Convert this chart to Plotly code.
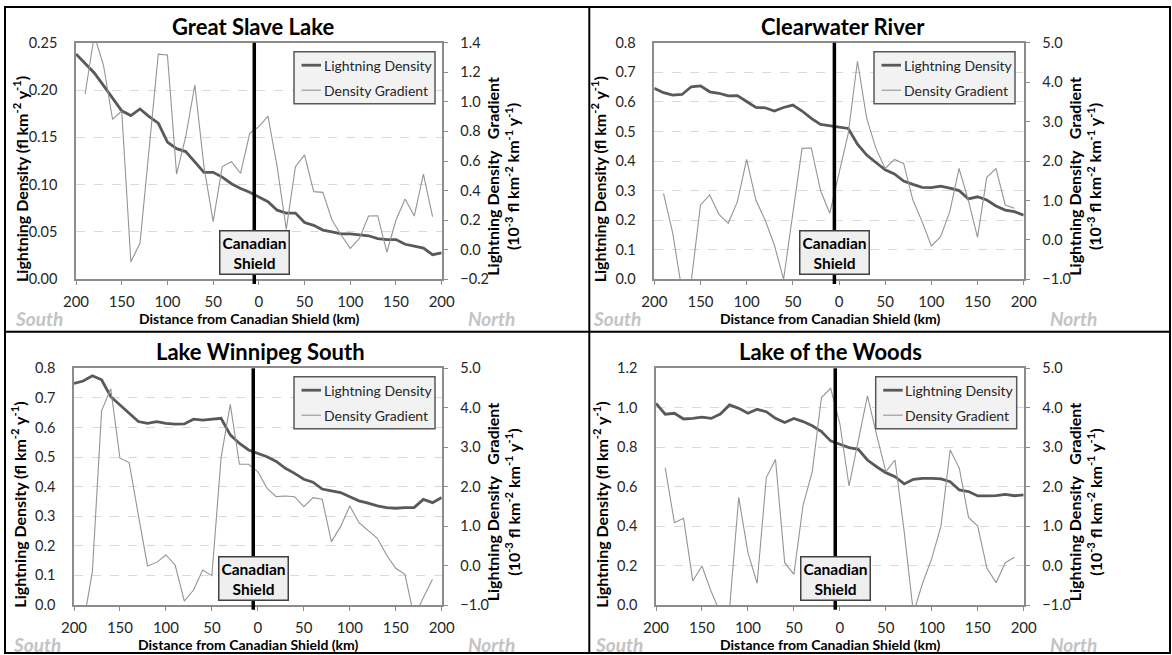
import plotly.graph_objects as go

# ---------------- DATA ----------------
DIST_DENSITY = list(range(-200, 201, 10))     # 41 points
DIST_GRADIENT = list(range(-190, 191, 10))    # 39 points
SHIELD_X = -5

X_TICKVALS = [-200, -150, -100, -50, 0, 50, 100, 150, 200]
X_TICKTEXT = ["200", "150", "100", "50", "0", "50", "100", "150", "200"]

TITLES = ["Great Slave Lake", "Clearwater River", "Lake Winnipeg South", "Lake of the Woods"]
SERIES_NAMES = ["Lightning Density", "Density Gradient"]

# Lightning density (fl km-2 y-1)
density_gsl = [0.238, 0.228, 0.218, 0.205, 0.191, 0.178, 0.173, 0.180, 0.172, 0.165,
               0.145, 0.138, 0.135, 0.124, 0.113, 0.113, 0.108, 0.101, 0.096, 0.092,
               0.087, 0.082, 0.073, 0.070, 0.070, 0.060, 0.057, 0.052, 0.050, 0.048,
               0.048, 0.047, 0.046, 0.043, 0.042, 0.042, 0.037, 0.035, 0.033, 0.026, 0.028]
density_cwr = [0.646, 0.631, 0.623, 0.625, 0.651, 0.654, 0.634, 0.629, 0.620, 0.621,
               0.601, 0.581, 0.580, 0.569, 0.581, 0.589, 0.569, 0.544, 0.524, 0.519,
               0.516, 0.510, 0.457, 0.420, 0.395, 0.370, 0.356, 0.332, 0.321, 0.311,
               0.310, 0.315, 0.308, 0.300, 0.272, 0.279, 0.268, 0.248, 0.234, 0.229, 0.217]
density_lws = [0.749, 0.757, 0.775, 0.761, 0.704, 0.676, 0.648, 0.620, 0.614, 0.620,
               0.614, 0.611, 0.612, 0.628, 0.625, 0.629, 0.631, 0.575, 0.546, 0.524,
               0.513, 0.501, 0.485, 0.462, 0.445, 0.425, 0.415, 0.392, 0.386, 0.380,
               0.366, 0.352, 0.344, 0.335, 0.329, 0.327, 0.329, 0.329, 0.357, 0.346, 0.363]
density_lotw = [1.022, 0.967, 0.972, 0.943, 0.946, 0.952, 0.946, 0.968, 1.014, 0.997,
                0.972, 0.992, 0.980, 0.946, 0.925, 0.946, 0.930, 0.909, 0.879, 0.832,
                0.815, 0.798, 0.789, 0.735, 0.701, 0.671, 0.651, 0.614, 0.637, 0.642,
                0.642, 0.639, 0.625, 0.583, 0.575, 0.553, 0.553, 0.554, 0.561, 0.554, 0.558]

# Density gradient (10-3 fl km-2 km-1 y-1)
gradient_gsl = [1.053, 1.45, 1.249, 0.882, 0.938, -0.081, 0.043, 0.686, 1.323, 1.317,
                0.512, 0.765, 1.114, 0.562, 0.190, 0.562, 0.595, 0.517, 0.787, 0.832,
                0.904, 0.562, 0.138, 0.562, 0.641, 0.393, 0.388, 0.201, 0.100, 0.010,
                0.077, 0.228, 0.230, -0.017, 0.201, 0.343, 0.228, 0.512, 0.224]
gradient_cwr = [1.18, 0.166, -1.3, -1.05, 0.885, 1.14, 0.648, 0.42, 0.97, 2.04,
                1.01, 0.504, -0.13, -1.0, 0.673, 2.32, 2.33, 1.25, 0.673, 1.71,
                2.70, 4.53, 3.08, 2.32, 1.81, 2.04, 1.94, 1.01, 0.462, -0.155,
                0.08, 0.715, 1.81, 1.01, 0.065, 1.586, 1.81, 0.885, 0.80]
gradient_lws = [-1.5, -0.155, 3.92, 4.48, 2.72, 2.61, 1.28, -0.01, 0.08, 0.268,
                0.014, -0.90, -0.62, -0.113, -0.256, 2.735, 4.087, 2.566, 2.566, 2.38,
                1.958, 1.746, 1.763, 1.746, 1.493, 1.72, 1.68, 0.606, 0.986, 1.51,
                1.087, 0.885, 0.69, 0.268, -0.07, -0.222, -1.3, -0.814, -0.35]
gradient_lotw = [2.48, 1.087, 1.197, -0.39, -0.011, -0.66, -1.2, -1.1, 1.73, 0.327,
                 -0.45, 2.23, 2.69, 0.073, -0.222, 1.535, 2.38, 4.26, 4.49, 3.6,
                 2.017, 3.14, 4.30, 3.31, 2.38, 2.676, 0.859, -1.2, -0.45, 0.183,
                 1.0, 2.93, 2.465, 1.22, 1.0, -0.07, -0.434, 0.073, 0.208]

LEFT_TICKS = [
    [0.00, 0.05, 0.10, 0.15, 0.20, 0.25],
    [0.0, 0.1, 0.2, 0.3, 0.4, 0.5, 0.6, 0.7, 0.8],
    [0.0, 0.1, 0.2, 0.3, 0.4, 0.5, 0.6, 0.7, 0.8],
    [0.0, 0.2, 0.4, 0.6, 0.8, 1.0, 1.2],
]
RIGHT_TICKS = [
    [-0.2, 0.0, 0.2, 0.4, 0.6, 0.8, 1.0, 1.2, 1.4],
    [-1.0, 0.0, 1.0, 2.0, 3.0, 4.0, 5.0],
    [-1.0, 0.0, 1.0, 2.0, 3.0, 4.0, 5.0],
    [-1.0, 0.0, 1.0, 2.0, 3.0, 4.0, 5.0],
]
LEFT_FMT = [".2f", ".1f", ".1f", ".1f"]

DENSITIES = [density_gsl, density_cwr, density_lws, density_lotw]
GRADIENTS = [gradient_gsl, gradient_cwr, gradient_lws, gradient_lotw]

# ---------------- LAYOUT (pixel geometry) ----------------
W, H = 1172, 655
FONT = "Lato"
TICK_SIZE = 14.5
PANELS = [
    dict(L=76.0, R=441.7, T=42.7, B=279.3, tx=252.5, ty=26.7, lg=(435, 51.7)),
    dict(L=654.3, R=1023.7, T=42.7, B=279.3, tx=842.7, ty=26.7, lg=(1015, 51.7)),
    dict(L=74.0, R=441.7, T=368.3, B=605.0, tx=260.5, ty=351.7, lg=(435, 376.7)),
    dict(L=656.0, R=1023.7, T=368.3, B=605.0, tx=830.2, ty=351.7, lg=(1016.7, 376.7)),
]
LEG_W, LEG_H = 141, 52


def fx(px):
    return px / W


def fy(py):
    return 1 - py / H


fig = go.Figure()
layout = dict(
    width=W, height=H, margin=dict(l=0, r=0, t=0, b=0, autoexpand=False),
    paper_bgcolor="white", plot_bgcolor="white",
    font=dict(family=FONT, size=14, color="#262626"),
    showlegend=False,
)
annotations = []
shapes = []

AXIS_COL = "#8c8c8c"
DENS_COL = "#595959"
GRAD_COL = "#949494"
DENS_W = 2.8
GRAD_W = 1.1

for i, p in enumerate(PANELS):
    n = i + 1
    xname = "xaxis" if n == 1 else f"xaxis{n}"
    xref = "x" if n == 1 else f"x{n}"
    yl = 2 * n - 1
    yr = 2 * n
    ylname = "yaxis" if yl == 1 else f"yaxis{yl}"
    ylref = "y" if yl == 1 else f"y{yl}"
    yrname = f"yaxis{yr}"
    yrref = f"y{yr}"

    fig.add_trace(go.Scatter(
        x=DIST_DENSITY, y=DENSITIES[i], mode="lines", name=SERIES_NAMES[0],
        line=dict(color=DENS_COL, width=DENS_W), xaxis=xref, yaxis=ylref))
    fig.add_trace(go.Scatter(
        x=DIST_GRADIENT, y=GRADIENTS[i], mode="lines", name=SERIES_NAMES[1],
        line=dict(color=GRAD_COL, width=GRAD_W), xaxis=xref, yaxis=yrref))

    layout[xname] = dict(
        domain=[fx(p["L"]), fx(p["R"])], anchor=ylref, range=[-200, 200],
        tickvals=X_TICKVALS, ticktext=X_TICKTEXT, showgrid=False, zeroline=False,
        showline=True, linecolor=AXIS_COL, linewidth=1.5, mirror=True,
        ticks="outside", ticklen=4, tickcolor=AXIS_COL, tickwidth=1,
        tickfont=dict(size=TICK_SIZE + 0.5, color="#262626"), ticklabelstandoff=4,
    )
    lt = LEFT_TICKS[i]
    layout[ylname] = dict(
        domain=[fy(p["B"]), fy(p["T"])], anchor=xref, range=[lt[0], lt[-1]],
        tickvals=lt, tickformat=LEFT_FMT[i], showgrid=True, gridcolor="#d9d9d9",
        griddash="dash", gridwidth=1, zeroline=False, showline=True,
        linecolor=AXIS_COL, linewidth=1.5, ticks="", tickfont=dict(size=TICK_SIZE, color="#262626"),
        ticklabelstandoff=14,
    )
    rt = RIGHT_TICKS[i]
    layout[yrname] = dict(
        overlaying=ylref, side="right", anchor=xref, range=[rt[0], rt[-1]],
        tickvals=rt, tickformat=".1f", showgrid=False, zeroline=False, showline=True,
        linecolor=AXIS_COL, linewidth=1.5, ticks="outside", ticklen=5, tickcolor=AXIS_COL,
        tickfont=dict(size=TICK_SIZE, color="#262626"), ticklabelstandoff=9,
    )

    # legend box (drawn in paper space)
    lr, lt_ = p["lg"]
    ll = lr - LEG_W
    shapes.append(dict(type="rect", xref="paper", yref="paper",
                       x0=fx(ll), x1=fx(lr), y0=fy(lt_ + LEG_H), y1=fy(lt_),
                       fillcolor="#f2f2f2", line=dict(color="#595959", width=1.5),
                       layer="above"))
    for k, (nm, col, wd) in enumerate(zip(SERIES_NAMES, [DENS_COL, GRAD_COL], [DENS_W, GRAD_W])):
        yy = lt_ + 13.5 + 25 * k
        shapes.append(dict(type="line", xref="paper", yref="paper",
                           x0=fx(ll + 7.5), x1=fx(ll + 27), y0=fy(yy), y1=fy(yy),
                           line=dict(color=col, width=wd), layer="above"))
        annotations.append(dict(
            text=nm, xref="paper", yref="paper", x=fx(ll + 27.5), y=fy(yy),
            xanchor="left", yanchor="middle", showarrow=False,
            font=dict(family=FONT, size=14, color="#262626")))

    cx = (p["L"] + p["R"]) / 2
    cy = (p["T"] + p["B"]) / 2
    # title
    annotations.append(dict(
        text=f"<b>{TITLES[i]}</b>", xref="paper", yref="paper", x=fx(p["tx"]), y=fy(p["ty"]),
        xanchor="center", yanchor="middle", showarrow=False,
        font=dict(family=FONT, size=22, color="black")))
    # left axis title
    annotations.append(dict(
        text="<b>Lightning Density (fl km<sup>-2</sup> y<sup>-1</sup>)</b>",
        xref="paper", yref="paper", x=fx(p["L"] - 55), y=fy(cy + 18),
        xanchor="center", yanchor="middle", textangle=-90, showarrow=False,
        font=dict(family=FONT, size=16, color="black")))
    # right axis title
    annotations.append(dict(
        text="<b>Lightning Density&nbsp;&nbsp; Gradient<br>(10<sup>-3</sup> fl km<sup>-2</sup> km<sup>-1</sup> y<sup>-1</sup>)</b>",
        xref="paper", yref="paper", x=fx(p["R"] + 61), y=fy(cy + 15),
        xanchor="center", yanchor="middle", textangle=-90, showarrow=False,
        font=dict(family=FONT, size=16, color="black")))
    # x axis title
    annotations.append(dict(
        text="<b>Distance from Canadian Shield (km)</b>", xref="paper", yref="paper",
        x=fx(cx - 9), y=fy(p["B"] + 39), xanchor="center", yanchor="middle", showarrow=False,
        font=dict(family=FONT, size=14, color="black")))
    # South / North
    annotations.append(dict(
        text="<b><i>South</i></b>", xref="paper", yref="paper", x=fx(p["L"] - 37),
        y=fy(p["B"] + 39), xanchor="center", yanchor="middle", showarrow=False,
        font=dict(family=FONT, size=19, color="#c3c3c3")))
    annotations.append(dict(
        text="<b><i>North</i></b>", xref="paper", yref="paper", x=fx(p["R"] + 50),
        y=fy(p["B"] + 39), xanchor="center", yanchor="middle", showarrow=False,
        font=dict(family=FONT, size=19, color="#c3c3c3")))
    # Canadian Shield boundary line
    shapes.append(dict(
        type="line", xref=xref, yref=f"{ylref} domain", x0=SHIELD_X, x1=SHIELD_X,
        y0=-0.02, y1=1, line=dict(color="black", width=3.5), layer="above"))
    annotations.append(dict(
        text="<b>Canadian<br>Shield</b>", xref=xref, yref=f"{ylref} domain",
        x=SHIELD_X, y=0.017, xanchor="center", yanchor="bottom", showarrow=False,
        bgcolor="#efefef", bordercolor="#404040", borderwidth=1.5, borderpad=2,
        font=dict(family=FONT, size=15.5, color="black")))

# panel frame lines
frame_col = "black"
shapes.append(dict(type="rect", xref="paper", yref="paper", x0=fx(5), x1=fx(1170),
                   y0=fy(653), y1=fy(7), line=dict(color=frame_col, width=2)))
shapes.append(dict(type="line", xref="paper", yref="paper", x0=fx(589.3), x1=fx(589.3),
                   y0=fy(653), y1=fy(7), line=dict(color=frame_col, width=2)))
shapes.append(dict(type="line", xref="paper", yref="paper", x0=fx(5), x1=fx(1170),
                   y0=fy(331.7), y1=fy(331.7), line=dict(color=frame_col, width=2)))

layout["annotations"] = annotations
layout["shapes"] = shapes
fig.update_layout(**layout)
fig.write_html(
    "out.html",
    post_script="document.body.style.margin='0';document.body.style.padding='0';"
                "document.documentElement.style.overflow='hidden';",
)
